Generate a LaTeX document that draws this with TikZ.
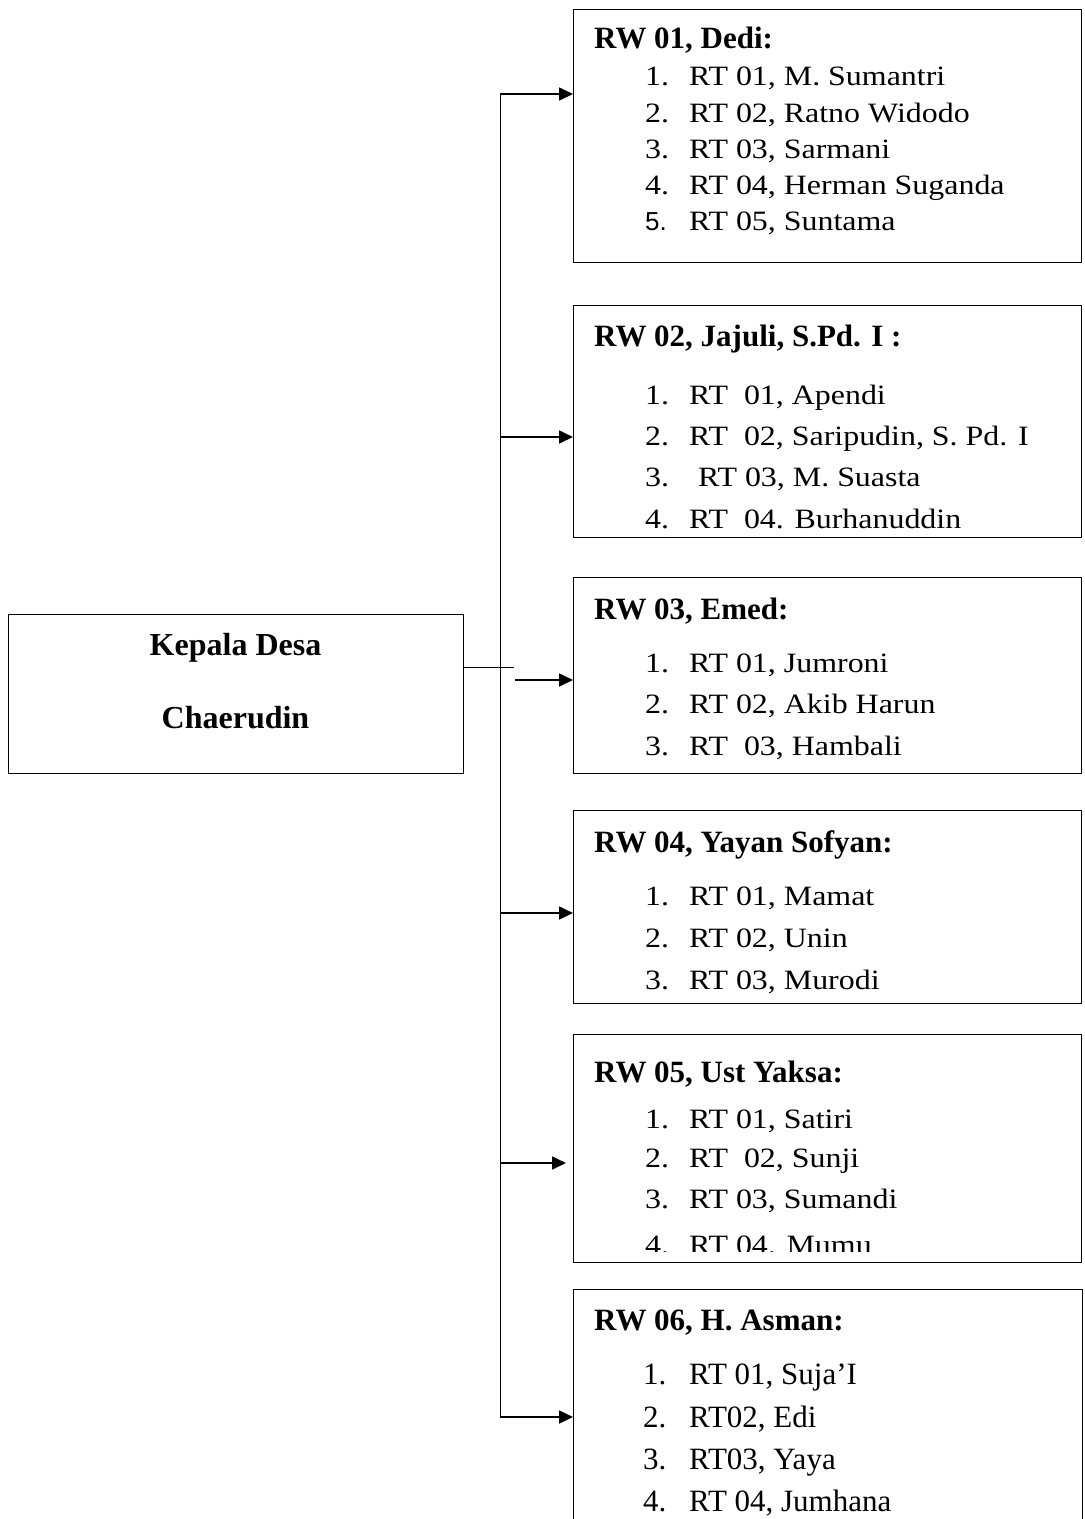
\documentclass[tikz,border=0pt]{standalone}
\usepackage{fontspec}
\setmainfont{Liberation Serif}
\newfontfamily\itemfont[FakeStretch=1.14]{Liberation Serif}
\newfontfamily\itemsans[FakeStretch=1.0]{Liberation Sans}
\usetikzlibrary{arrows.meta}
\tikzset{
  frame/.style={draw, line width=1pt, inner sep=0pt, anchor=north west, minimum width=508pt},
  thinline/.style={line width=0.9pt},
  arrowline/.style={line width=1.7pt, -{Triangle[length=14pt,width=13pt]}},
  title/.style={anchor=base west, inner sep=0pt, font=\bfseries\fontsize{31}{36}\selectfont},
  num/.style={anchor=base west, inner sep=0pt, font=\itemfont\fontsize{28}{34}\selectfont},
  itm/.style={anchor=base west, inner sep=0pt, font=\itemfont\fontsize{28}{34}\selectfont},
  numb/.style={anchor=base west, inner sep=0pt, font=\fontsize{31}{36}\selectfont},
  itmb/.style={anchor=base west, inner sep=0pt, font=\fontsize{31}{36}\selectfont},
  headtext/.style={anchor=base, inner sep=0pt, font=\bfseries\fontsize{32}{38}\selectfont}
}
\begin{document}
\begin{tikzpicture}[x=1pt, y=-1pt]
\useasboundingbox (0,0) rectangle (1085,1519);

% left box
\node[frame, minimum width=455pt, minimum height=159pt] (kd) at (8,614) {};
\node[headtext] (kd1) at (235.5,655) {Kepala Desa};
\node[headtext] (kd2) at (235.5,728) {Chaerudin};

% RW boxes
\node[frame, minimum height=253pt] (rw1) at (573,9) {};
\node[frame, minimum height=232pt] (rw2) at (573,305) {};
\node[frame, minimum height=196pt] (rw3) at (573,577) {};
\node[frame, minimum height=193pt] (rw4) at (573,810) {};
\node[frame, minimum height=228pt] (rw5) at (573,1034) {};
\node[frame, draw=none, minimum height=240pt] (rw6) at (573,1289) {};
\draw[line width=1pt] (rw6.south west) -- (rw6.north west) -- (rw6.north east) -- (rw6.south east);

% RW 01
\node[title] (t1) at (594,48) {RW 01, Dedi:};
\node[num] (n11) at (645,85) {1.};  \node[itm] (i11) at (689,85) {RT 01, M. Sumantri};
\node[num] (n12) at (645,122) {2.}; \node[itm] (i12) at (689,122) {RT 02, Ratno Widodo};
\node[num] (n13) at (645,158) {3.}; \node[itm] (i13) at (689,158) {RT 03, Sarmani};
\node[num] (n14) at (645,194) {4.}; \node[itm] (i14) at (689,194) {RT 04, Herman Suganda};
\node[num, font=\itemsans\fontsize{26}{32}\selectfont] (n15) at (645,230) {5.}; \node[itm] (i15) at (689,230) {RT 05, Suntama};

% RW 02
\node[title] (t2) at (594,346) {RW 02, Jajuli, S.Pd. I :};
\node[num] (n21) at (645,404) {1.}; \node[itm] (i21) at (689,404) {RT\ \ 01, Apendi};
\node[num] (n22) at (645,445) {2.}; \node[itm] (i22) at (689,445) {RT\ \ 02, Saripudin, S. Pd. I};
\node[num] (n23) at (645,486) {3.}; \node[itm] (i23) at (698,486) {RT 03, M. Suasta};
\node[num] (n24) at (645,528) {4.}; \node[itm] (i24) at (689,528) {RT\ \ 04. Burhanuddin};

% RW 03
\node[title] (t3) at (594,619) {RW 03, Emed:};
\node[num] (n31) at (645,672) {1.}; \node[itm] (i31) at (689,672) {RT 01, Jumroni};
\node[num] (n32) at (645,713) {2.}; \node[itm] (i32) at (689,713) {RT 02, Akib Harun};
\node[num] (n33) at (645,755) {3.}; \node[itm] (i33) at (689,755) {RT\ \ 03, Hambali};

% RW 04
\node[title] (t4) at (594,852) {RW 04, Yayan Sofyan:};
\node[num] (n41) at (645,905) {1.}; \node[itm] (i41) at (689,905) {RT 01, Mamat};
\node[num] (n42) at (645,947) {2.}; \node[itm] (i42) at (689,947) {RT 02, Unin};
\node[num] (n43) at (645,989) {3.}; \node[itm] (i43) at (689,989) {RT 03, Murodi};

% RW 05
\node[title] (t5) at (594,1082) {RW 05, Ust Yaksa:};
\node[num] (n51) at (645,1128) {1.}; \node[itm] (i51) at (689,1128) {RT 01, Satiri};
\node[num] (n52) at (645,1167) {2.}; \node[itm] (i52) at (689,1167) {RT\ \ 02, Sunji};
\node[num] (n53) at (645,1208) {3.}; \node[itm] (i53) at (689,1208) {RT 03, Sumandi};
\begin{scope}
\clip (560,1215) rectangle (1085,1251);
\node[num] (n54) at (645,1254) {4.}; \node[itm] (i54) at (689,1254) {RT 04. Mumu};
\end{scope}

% RW 06
\node[title] (t6) at (594,1330) {RW 06, H. Asman:};
\node[numb] (n61) at (643,1384) {1.}; \node[itmb] (i61) at (689,1384) {RT 01, Suja’I};
\node[numb] (n62) at (643,1427) {2.}; \node[itmb] (i62) at (689,1427) {RT02, Edi};
\node[numb] (n63) at (643,1469) {3.}; \node[itmb] (i63) at (689,1469) {RT03, Yaya};
\node[numb] (n64) at (643,1511) {4.}; \node[itmb] (i64) at (689,1511) {RT 04, Jumhana};

% connectors
\coordinate (j1) at (500,94);
\coordinate (j2) at (500,437);
\coordinate (stub) at (514,667);
\coordinate (j3) at (515,680);
\coordinate (j4) at (500,913);
\coordinate (j5) at (500,1163);
\coordinate (e5) at (566,1163);
\coordinate (j6) at (500,1417);

\draw[thinline] (j1) -- (j6);
\draw[thinline] (kd.east |- stub) -- (stub);
\draw[arrowline] (j1) -- (j1 -| rw1.west);
\draw[arrowline] (j2) -- (j2 -| rw2.west);
\draw[arrowline] (j3) -- (j3 -| rw3.west);
\draw[arrowline] (j4) -- (j4 -| rw4.west);
\draw[arrowline] (j5) -- (e5);
\draw[arrowline] (j6) -- (j6 -| rw6.west);
\end{tikzpicture}
\end{document}
